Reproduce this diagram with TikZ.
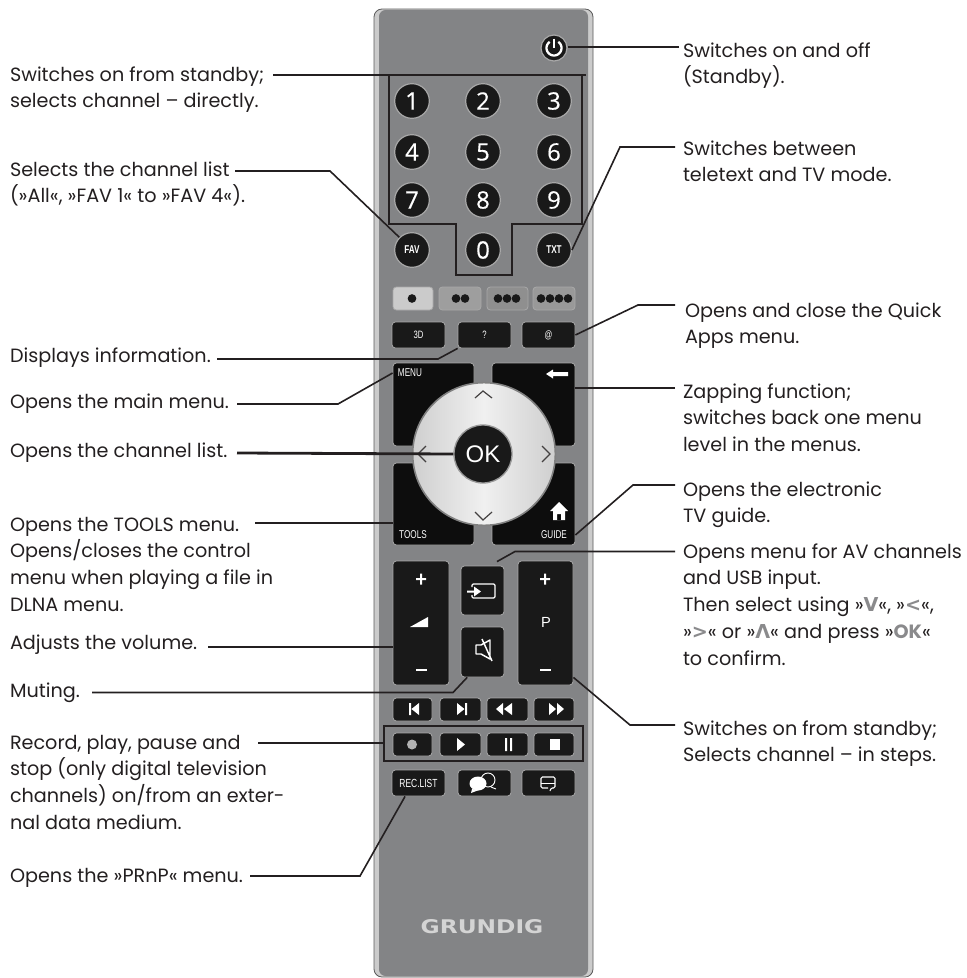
\documentclass[tikz,border=0pt]{standalone}
\usepackage{fontspec}
\usepackage{graphicx}
\usetikzlibrary{calc}
\setmainfont{Poppins}
\newfontfamily\btnfont{Liberation Sans}
\newfontfamily\condfont[FakeStretch=0.72]{Liberation Sans}
\newfontfamily\digfont[FakeBold=0.4]{Open Sans}
\newfontfamily\keyfont{DejaVu Sans}
\definecolor{ink}{HTML}{231F20}
\definecolor{bodygray}{HTML}{838486}
\definecolor{rimgray}{HTML}{CBCBCB}
\definecolor{edgegray}{HTML}{5A5A5A}
\definecolor{keyblack}{HTML}{191919}
\definecolor{keyedge}{HTML}{A8A8A8}
\definecolor{keygray}{HTML}{8A8A8C}
\definecolor{dialmid}{HTML}{F0F0F0}
\definecolor{dialside}{HTML}{CFCFCF}
\definecolor{logogray}{HTML}{D4D4D4}
\newcommand\kk[1]{{\keyfont\bfseries\textcolor{keygray}{#1}}}
\tikzset{
  lbl/.style={inner sep=0pt,outer sep=0pt,align=left,text=ink,anchor=north west,font=\fontsize{14.4pt}{20.2pt}\selectfont},
  thickline/.style={draw=ink,line width=2.1pt},
  thinline/.style={draw=ink,line width=1.2pt},
  btnbase/.style={rectangle,draw=keyedge,line width=0.6pt,fill=keyblack,rounded corners=2.5pt,inner sep=0pt,text=white,font=\condfont\fontsize{8pt}{9pt}\selectfont},
  roundkey/.style={circle,draw=keyedge,line width=0.9pt,fill=keyblack,inner sep=0pt,minimum size=26pt,text=white,font=\digfont\fontsize{18pt}{20pt}\selectfont},
  smallkey/.style={roundkey,font=\condfont\bfseries\fontsize{8.5pt}{9pt}\selectfont},
  keylabel/.style={text=white,inner sep=0pt,font=\condfont\fontsize{8.5pt}{9pt}\selectfont},
  icon/.style={fill=white,draw=none},
  iconline/.style={draw=white,line width=0.9pt,fill=none},
  chev/.style={draw=ink!85,line width=0.9pt,fill=none},
  dot/.style={circle,fill=keyblack,draw=none,inner sep=0pt,minimum size=6.5pt},
}
\newcommand\lbltext[4]{\pgfmathsetmacro\ty{#3-20}\node[lbl] (#1) at (#2,\ty) {\rule{0pt}{15pt}#4};}
\newcommand\btn[7][]{\pgfmathsetmacro\cx{(#3+#5)/2}\pgfmathsetmacro\cy{(#4+#6)/2}\pgfmathsetmacro\bw{(#5-#3)*0.75}\pgfmathsetmacro\bh{(#6-#4)*0.75}\node[btnbase,minimum width=\bw pt,minimum height=\bh pt,#1] (#2) at (\cx,\cy) {#7};}
\begin{document}
\begin{tikzpicture}[x=0.75pt,y=-0.75pt]
\useasboundingbox (0,0) rectangle (967,978);
% body
\draw[draw=edgegray,line width=0.6pt,fill=rimgray,rounded corners=6pt] (374,9) rectangle (593,977);
\fill[bodygray,rounded corners=5pt] (379,10) rectangle (588,976);
% power
\node[roundkey,minimum size=19.5pt] (power) at (554,48) {};
\draw[draw=white,line width=1.7pt] plot[domain=-55:235,samples=40] ({554+7.5*cos(\x)},{48+7.5*sin(\x)});
\draw[draw=white,line width=1.7pt] (554,38.5) -- (554,48);
% digits
\node[roundkey] (k1) at (412,101) {1};
\node[roundkey] (k2) at (483,101) {2};
\node[roundkey] (k3) at (554,101) {3};
\node[roundkey] (k4) at (412,152) {4};
\node[roundkey] (k5) at (483,152) {5};
\node[roundkey] (k6) at (554,152) {6};
\node[roundkey] (k7) at (412,200) {7};
\node[roundkey] (k8) at (483,200) {8};
\node[roundkey] (k9) at (554,200) {9};
\node[roundkey] (k0) at (483,250) {0};
\node[smallkey] (fav) at (412,250) {FAV};
\node[smallkey] (txt) at (554,250) {TXT};
% colour keys
\btn[fill=rimgray]{col1}{393}{287}{433}{310}{}
\btn[fill=black!38]{col2}{439}{287}{481}{310}{}
\btn[fill=black!44]{col3}{487}{287}{528}{310}{}
\btn[fill=black!40]{col4}{533}{287}{575}{310}{}
\foreach \dx/\dy in {412/298.5,456/298.5,465/298.5,498/298.5,507/298.5,516/298.5,541/298.5,550/298.5,559/298.5,568/298.5} \node[dot] at (\dx,\dy) {};
% 3D row
\btn{k3d}{392}{322}{445}{348}{3D}
\btn{kinfo}{458}{322}{511}{348}{?}
\btn{kat}{522}{322}{575}{348}{@}
% menu blocks
\btn[fill=black!95]{kmenu}{393}{363}{474}{446}{}
\btn[fill=black!95]{kback}{492}{363}{575}{446}{}
\btn[fill=black!95]{ktools}{393}{463}{474}{545}{}
\btn[fill=black!95]{kguide}{492}{463}{575}{545}{}
\node[keylabel] (tmenu) at (410,373) {MENU};
\node[keylabel] (ttools) at (413,535) {TOOLS};
\node[keylabel] (tguide) at (554,535) {GUIDE};
\fill[icon] (546,374) -- (553,369.5) -- (553,372) -- (568,372) -- (568,376) -- (553,376) -- (553,378.5) -- cycle;
\fill[icon,even odd rule] (550,511) -- (559,502) -- (568,511) -- (565,511) -- (565,520) -- (553,520) -- (553,511) -- cycle (557,514) rectangle (561,520);
% dial
\node[circle,draw=black!50,line width=1.2pt,left color=dialside,right color=dialside,middle color=dialmid,inner sep=0pt,minimum size=107pt] (dial) at (484,454) {};
\draw[chev] (475,398) -- (483,391) -- (492,398);
\draw[chev] (475,512) -- (483,520) -- (492,512);
\draw[chev] (426,446) -- (418,454) -- (426,462);
\draw[chev] (542,446) -- (550,454) -- (542,462);
\node[circle,draw=black!40,line width=1pt,fill=keyblack,inner sep=0pt,minimum size=43.5pt,text=white,font=\btnfont\fontsize{18pt}{18pt}\selectfont] (ok) at (483,454) {OK};
% vol / P / input / mute
\btn{kvol}{393}{561}{449}{685}{}
\btn{kp}{518}{561}{573}{685}{}
\btn{kinput}{461}{566}{504}{615}{}
\btn{kmute}{461}{627}{504}{677}{}
\fill[icon] (416,578) rectangle (426,580) (420,573.5) rectangle (422,584.5);
\fill[icon] (410,627) -- (428,627) -- (428,617) -- cycle;
\fill[icon] (416,669) rectangle (427,671);
\fill[icon] (540,578) rectangle (550,580) (544,573.5) rectangle (546,584.5);
\node[text=white,inner sep=0pt,font=\btnfont\fontsize{11pt}{12pt}\selectfont] (pmark) at (546,622) {P};
\fill[icon] (540,669) rectangle (551,671);
\draw[iconline,rounded corners=1pt] (472,587) -- (472,584) -- (495,584) -- (495,598) -- (472,598) -- (472,595);
\fill[icon] (467,590.5) rectangle (474,592.5) (474,586.5) -- (481,591.5) -- (474,596.5) -- cycle;
\draw[iconline,line width=1.1pt,line join=round] (476,645) -- (481,645) -- (490,640) -- (490,659) -- (481,654) -- (476,654) -- cycle (482,639) -- (492,661);
% transport
\btn{tr1}{393}{698}{432}{721}{}
\btn{tr2}{440}{698}{481}{721}{}
\btn{tr3}{487}{698}{528}{721}{}
\btn{tr4}{534}{698}{574}{721}{}
\fill[icon] (409,703) rectangle (411,715) (419,703) -- (419,715) -- (411.5,709) -- cycle;
\fill[icon] (457,703) -- (457,715) -- (464.5,709) -- cycle (465,703) rectangle (467,715);
\fill[icon] (503,703) -- (503,715) -- (496,709) -- cycle (512,703) -- (512,715) -- (504,709) -- cycle;
\fill[icon] (549,703) -- (549,715) -- (556,709) -- cycle (557,703) -- (557,715) -- (564,709) -- cycle;
\btn{tr5}{393}{733}{432}{756}{}
\btn{tr6}{440}{733}{481}{756}{}
\btn{tr7}{487}{733}{528}{756}{}
\btn{tr8}{534}{733}{574}{756}{}
\fill[black!30] (412,744.5) circle[radius=5];
\fill[icon] (457,738) -- (457,751) -- (465,744.5) -- cycle;
\fill[icon] (505,738) rectangle (507,751) (510,738) rectangle (512,751);
\fill[icon] (550,739) rectangle (560,750);
\node[draw=ink,line width=1.3pt,inner sep=0pt,minimum width=149pt,minimum height=26pt] (recframe) at (483.5,743.5) {};
% row 3
\btn[font=\condfont\fontsize{8.8pt}{9pt}\selectfont]{krec}{392}{770}{445}{796}{REC.LIST}
\btn{ktalk}{458}{770}{511}{796}{}
\btn{kcomment}{522}{770}{575}{796}{}
\draw[iconline,line width=0.7pt] (488,780) circle[radius=7];
\draw[iconline,line width=0.7pt] (491,787) -- (496,789);
\fill[icon] (478,783.5) ellipse[x radius=8.5,y radius=7];
\fill[icon] (472,789) -- (471,793) -- (479,790) -- cycle;
\draw[iconline,line width=0.8pt,rounded corners=1pt] (548,788) -- (541,788) -- (541,777) -- (555,777) -- (555,788) -- (551,788) -- (550,791);
\draw[iconline,line width=0.7pt] (541,783) -- (555,783);
% logo
\node[inner sep=0pt,text=logogray] (logo) at (482,927) {\resizebox{92pt}{10.5pt}{\keyfont\bfseries GRUNDIG}};
% labels
\lbltext{l1}{10}{81}{Switches on from standby;\\selects channel – directly.}
\lbltext{l2}{10}{176}{Selects the channel list\\(»All«, »FAV 1« to »FAV 4«).}
\lbltext{l3}{10}{362}{Displays information.}
\lbltext{l4}{10}{408}{Opens the main menu.}
\lbltext{l5}{10}{457}{Opens the channel list.}
\lbltext{l6}{10}{531}{Opens the TOOLS menu.\\Opens/closes the control\\menu when playing a file in\\DLNA menu.}
\lbltext{l7}{10}{649}{Adjusts the volume.}
\lbltext{l8}{10}{697}{Muting.}
\lbltext{l9}{10}{749}{Record, play, pause and\\stop (only digital television\\channels) on/from an exter-\\nal data medium.}
\lbltext{l10}{10}{882}{Opens the »PRnP« menu.}
\lbltext{r1}{683}{57}{Switches on and off\\(Standby).}
\lbltext{r2}{683}{155}{Switches between\\teletext and TV mode.}
\lbltext{r3}{685}{317}{Opens and close the Quick\\Apps menu.}
\lbltext{r4}{683}{398}{Zapping function;\\switches back one menu\\level in the menus.}
\lbltext{r5}{683}{496}{Opens the electronic\\TV guide.}
\lbltext{r6}{683}{558}{Opens menu for AV channels\\and USB input.\\Then select using »\kk{V}«, »\kk{<}«,\\»\kk{>}« or »\kk{Λ}« and press »{\bfseries\textcolor{keygray}{OK}}«\\to confirm.}
\lbltext{r7}{683}{735}{Switches on from standby;\\Selects channel – in steps.}
% connector free ends and bends
\coordinate (a1) at (273,75);
\coordinate (a2) at (235,171);
\coordinate (b2) at (330,171);
\coordinate (a3) at (217,359);
\coordinate (b3) at (438,359);
\coordinate (a4) at (237,404);
\coordinate (b4) at (338,404);
\coordinate (a5) at (237,453);
\coordinate (a6) at (255,523);
\coordinate (a7) at (208,647);
\coordinate (a8) at (92,692.5);
\coordinate (b8) at (453,692.5);
\coordinate (a9) at (258,743);
\coordinate (a10) at (250,876);
\coordinate (b10) at (360,876);
\coordinate (c1) at (679,47);
\coordinate (c2) at (675,147);
\coordinate (d2) at (620,147);
\coordinate (c3) at (675,305);
\coordinate (d3) at (638,305);
\coordinate (c4) at (675,388);
\coordinate (c5) at (675,485);
\coordinate (d5) at (633,485);
\coordinate (c6) at (675,551.5);
\coordinate (d6) at (515,551.5);
\coordinate (c7) at (675,725);
\coordinate (d7) at (630,725);
\coordinate (bt1) at (586,75);
% connectors
\draw[thickline,line join=miter] (a1) -- (bt1);
\draw[thickline,line join=miter] (389,75) -- (389,224) -- (456,224) -- (456,275) -- (512,275) -- (512,224) -- (582,224) -- (582,75);
\draw[thinline] (a2) -- (b2) -- (fav.north west);
\draw[thinline] (a3) -- (b3) -- (kinfo.south west);
\draw[thinline] (a4) -- (b4) -- (kmenu.west |- tmenu);
\draw[thickline] (a5) -- (ok.west);
\draw[thickline] (a6) -- (ktools.west |- a6);
\draw[thickline] (a7) -- (kvol.west |- a7);
\draw[thinline] (a8) -- (b8) -- ($(kmute.south west)!0.15!(kmute.south east)$);
\draw[thickline] (a9) -- (recframe.west |- a9);
\draw[thinline] (a10) -- (b10) -- ($(krec.south west)!0.25!(krec.south east)$);
\draw[thickline] (c1) -- (power.east |- c1);
\draw[thinline] (c2) -- (d2) -- (txt.east);
\draw[thinline] (c3) -- (d3) -- (kat.east);
\draw[thickline] (c4) -- (kback.east |- c4);
\draw[thinline] (c5) -- (d5) -- (kguide.east |- tguide);
\draw[thinline] (c6) -- (d6) -- ($(kinput.north west)!0.83!(kinput.north east)+(0,-4)$);
\draw[thinline] (c7) -- (d7) -- (kp.east |- kmute.south);
\end{tikzpicture}
\end{document}
